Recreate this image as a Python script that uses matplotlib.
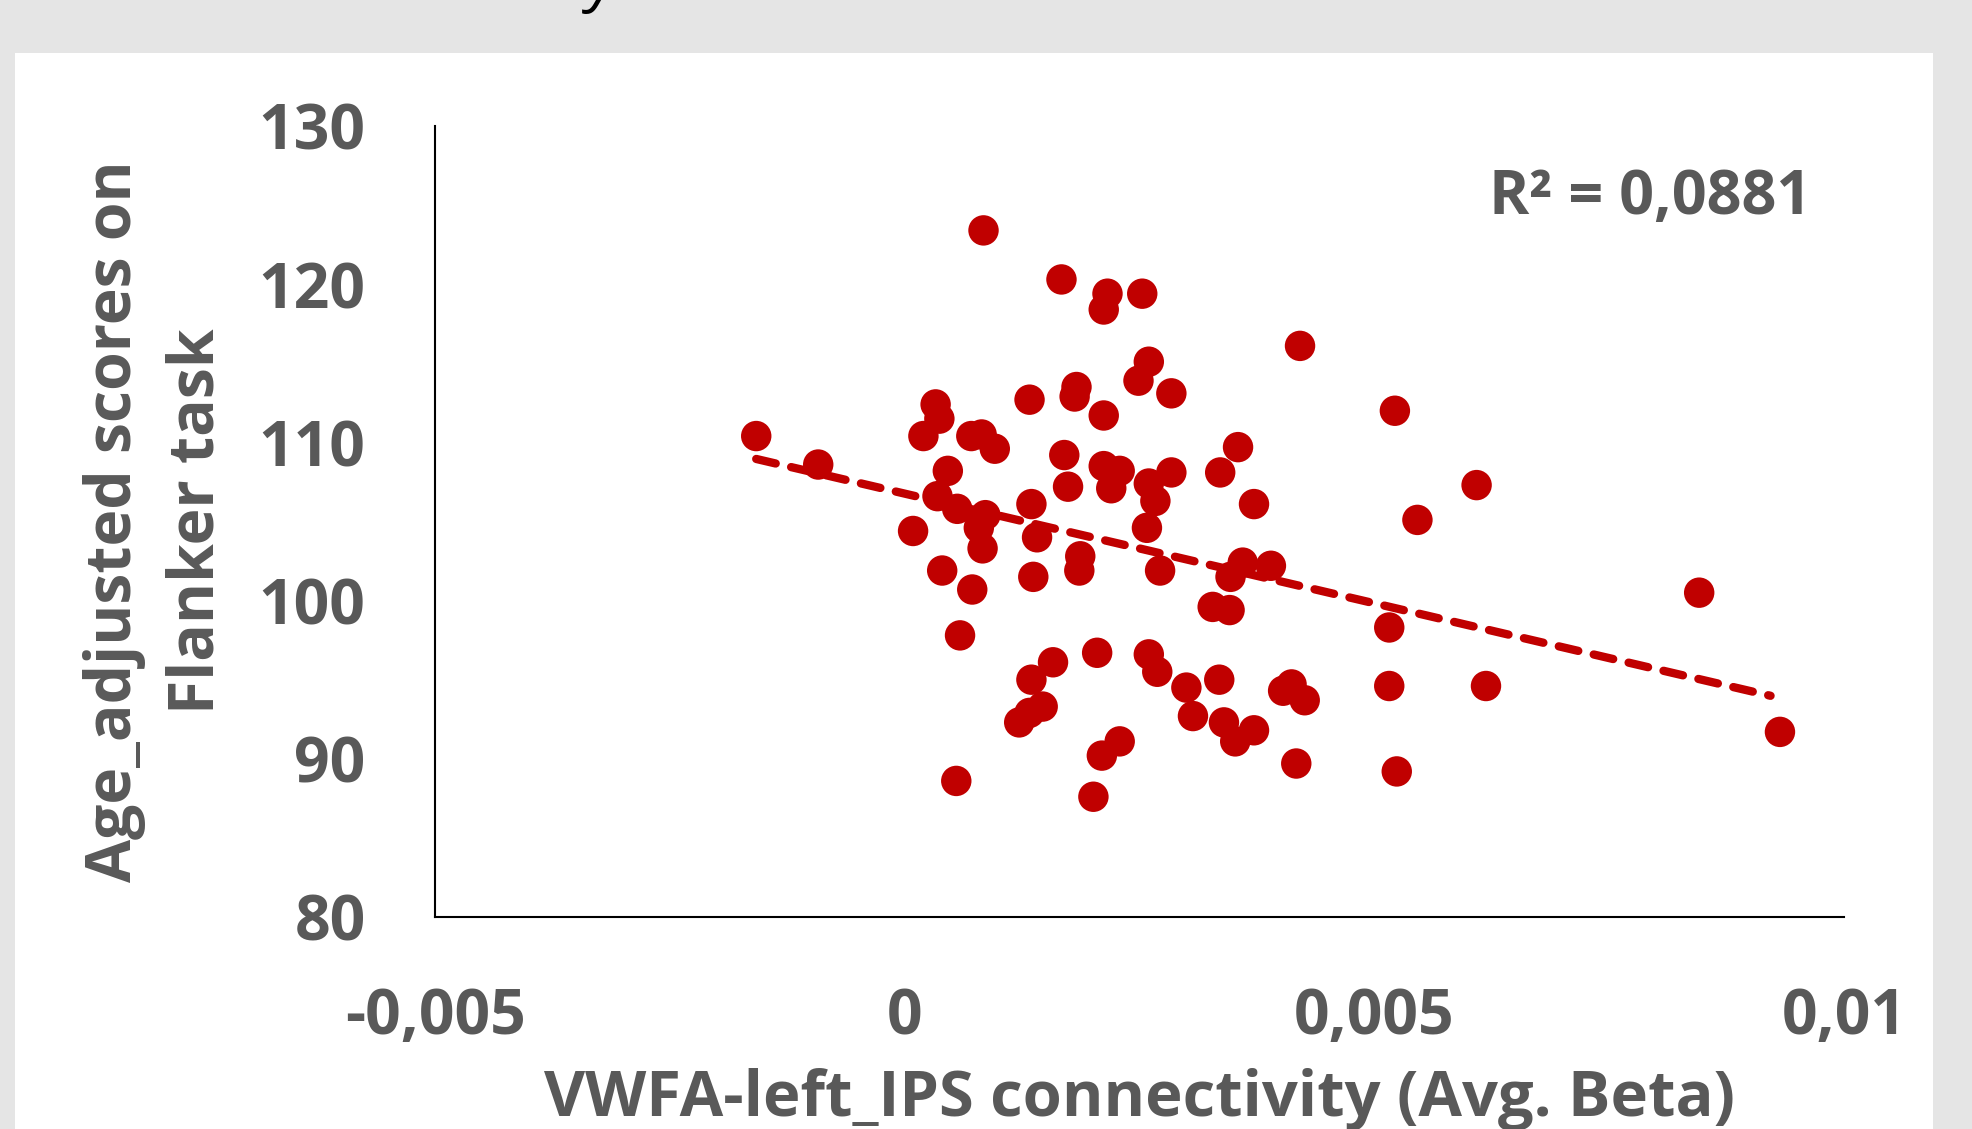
import numpy as np
import matplotlib
matplotlib.use("Agg")
import matplotlib.pyplot as plt
from matplotlib.patches import Rectangle

# connectivity (avg beta) and age adjusted flanker scores
conn = [-0.00158, -0.00092, 0.00084, 0.00167, 0.00216, 0.00212, 0.00253, 0.00421,
        0.00260, 0.00249, 0.00284, 0.00183, 0.00181, 0.00133, 0.00033, 0.00037,
        0.00212, 0.00522, 0.00020, 0.00071, 0.00082, 0.00096, 0.00170, 0.00355,
        0.00046, 0.00212, 0.00229, 0.00284, 0.00336, 0.00174, 0.00260, 0.00220,
        0.00609, 0.00035, 0.00056, 0.00267, 0.00372, 0.00135, 0.00086, 0.00079,
        0.00258, 0.00546, 0.00009, 0.00141, 0.00083, 0.00187, 0.00360, 0.00390,
        0.00186, 0.00272, 0.00040, 0.00347, 0.00137, 0.00072, 0.00846, 0.00328,
        0.00346, 0.00516, 0.00059, 0.00205, 0.00260, 0.00158, 0.00269, 0.00135,
        0.00335, 0.00300, 0.00412, 0.00516, 0.00619, 0.00403, 0.00426, 0.00147,
        0.00133, 0.00122, 0.00307, 0.00340, 0.00372, 0.00352, 0.00229, 0.00210,
        0.00932, 0.00417, 0.00524, 0.00055, 0.00201]
score = [110.4, 108.6, 123.4, 120.3, 119.4, 118.4, 119.4, 116.1,
         115.1, 113.9, 113.1, 113.5, 112.9, 112.7, 112.4, 111.5,
         111.7, 112.0, 110.4, 110.4, 110.5, 109.6, 109.2, 109.7,
         108.2, 108.5, 108.2, 108.1, 108.1, 107.2, 107.4, 107.1,
         107.3, 106.6, 105.8, 106.3, 106.1, 106.1, 105.4, 104.6,
         104.6, 105.1, 104.4, 104.0, 103.3, 102.8, 102.4, 102.2,
         101.9, 101.9, 101.9, 101.5, 101.5, 100.7, 100.5, 99.6,
         99.4, 98.3, 97.8, 96.7, 96.6, 96.1, 95.5, 95.0,
         95.0, 94.5, 94.7, 94.6, 94.6, 94.3, 93.7, 93.3,
         92.9, 92.3, 92.7, 92.3, 91.8, 91.1, 91.1, 90.2,
         91.7, 89.7, 89.2, 88.6, 87.6]
xticks = [-0.005, 0, 0.005, 0.01]
xticklabels = ["-0,005", "0", "0,005", "0,01"]
yticks = [80, 90, 100, 110, 120, 130]
r2_text = "R² = 0,0881"

red = "#C00000"
grey = "#595959"
plt.rcParams['font.family'] = ['Open Sans', 'DejaVu Sans']
plt.rcParams['font.weight'] = 'bold'

fig = plt.figure(figsize=(19.72, 11.29), dpi=100, facecolor="#e5e5e5")
fig.patches.append(Rectangle((0.0076, 0), 0.9726, 0.953, transform=fig.transFigure,
                             facecolor="white", edgecolor="none", zorder=-1))
# cut off title above the panel
fig.text(0.305, 1.0, "y", fontsize=44, style="italic", color="black",
         ha="center", va="baseline", weight="normal")

ax = fig.add_axes([0.2206, 0.1878, 0.7144, 0.7006])
ax.set_facecolor("none")

ax.scatter(conn, score, s=480, color=red, edgecolor="none", zorder=3)

# linear trendline
k, b = np.polyfit(conn, score, 1)
xl = np.array([min(conn), max(conn) - 0.0001])
line, = ax.plot(xl, k * xl + b, color=red, lw=6, dashes=(2.4, 1.9), zorder=2)
line.set_dash_capstyle("round")

ax.set_xlim(-0.005, 0.01)
ax.set_ylim(80, 130)
ax.set_xticks(xticks)
ax.set_xticklabels(xticklabels)
ax.set_yticks(yticks)
for s in ["top", "right"]:
    ax.spines[s].set_visible(False)
for s in ["left", "bottom"]:
    ax.spines[s].set_linewidth(1.5)
    ax.spines[s].set_color("black")
ax.tick_params(axis="both", length=0, labelsize=45, labelcolor=grey)
ax.tick_params(axis="y", pad=50)
ax.tick_params(axis="x", pad=50)

ax.text(0.977, 0.908, r2_text, transform=ax.transAxes, ha="right", va="center",
        fontsize=44, color=grey)

fig.text(0.578, 0.026, "VWFA-left_IPS connectivity (Avg. Beta)", ha="center",
         va="center", fontsize=45.5, color=grey)
fig.text(0.079, 0.538, "Age_adjusted scores on\nFlanker task", ha="center",
         va="center", rotation=90, fontsize=45, color=grey, linespacing=1.4)

fig.savefig("out.png", dpi=100, facecolor=fig.get_facecolor())
